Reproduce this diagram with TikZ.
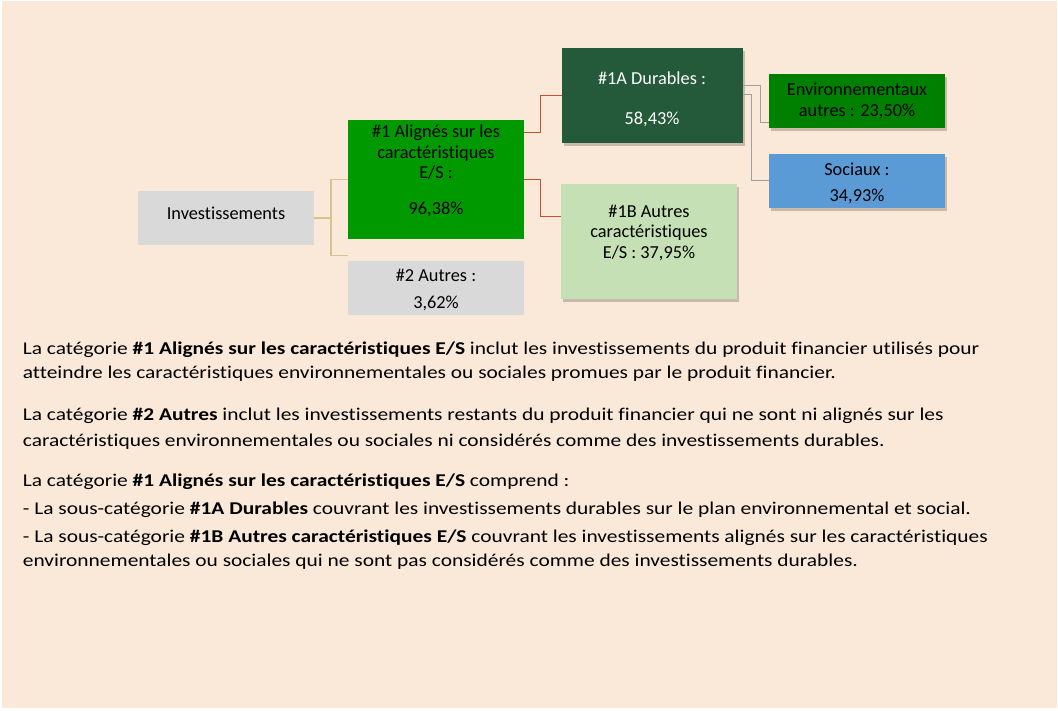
\documentclass[tikz,border=0pt]{standalone}
\usepackage{fontspec}
\setmainfont{Carlito}[Ligatures=NoCommon]
\newfontfamily\bodyfont{Carlito}[Ligatures=NoCommon,FakeStretch=1.19]
\usetikzlibrary{shadows,calc}
\definecolor{bgpeach}{HTML}{FAE8D8}
\definecolor{boxgray}{HTML}{D9D9D9}
\definecolor{greenA}{HTML}{009900}
\definecolor{darkgreen}{HTML}{245A3A}
\definecolor{envgreen}{HTML}{008000}
\definecolor{socblue}{HTML}{5B9BD5}
\definecolor{lightgreen}{HTML}{C5E0B4}
\definecolor{tanline}{HTML}{D6C48C}
\definecolor{redline}{HTML}{C8502D}
\definecolor{grayline}{HTML}{A0A0A0}
\tikzset{
  box/.style={draw=none, inner sep=0pt, outer sep=0pt, anchor=north west},
  shadowed/.style={drop shadow={shadow xshift=2pt, shadow yshift=-3pt, opacity=0.2, fill=black}},
  boxtext/.style={anchor=base, inner sep=0pt, font=\fontsize{18.3}{21}\selectfont},
  bodytext/.style={anchor=base west, inner sep=0pt, font=\bodyfont\fontsize{18}{22}\selectfont},
  tanconn/.style={draw=tanline, line width=1.6pt},
  redconn/.style={draw=redline, line width=1.6pt},
  grayconn/.style={draw=grayline, line width=1.1pt},
}
\begin{document}
\begin{tikzpicture}[x=1pt,y=-1pt]
\useasboundingbox (0,0) rectangle (1058,711);
\fill[white] (0,0) rectangle (1058,711);
\fill[bgpeach] (2,1) rectangle (1057,708);

% boxes
\node[box, fill=boxgray, minimum width=176pt, minimum height=53.7pt] (inv) at (138,191) {};
\node[box, fill=greenA, minimum width=176pt, minimum height=118.7pt] (n1) at (348,120) {};
\node[box, fill=boxgray, minimum width=176pt, minimum height=54.3pt] (n2) at (348,260.7) {};
\node[box, fill=darkgreen, shadowed, minimum width=180.7pt, minimum height=94.7pt] (n1a) at (562,48) {};
\node[box, fill=lightgreen, shadowed, minimum width=176pt, minimum height=115pt] (n1b) at (561,184) {};
\node[box, fill=envgreen, shadowed, minimum width=176pt, minimum height=53.7pt] (env) at (769,74) {};
\node[box, fill=socblue, shadowed, minimum width=176pt, minimum height=53.7pt] (soc) at (769,154) {};

% connectors
\coordinate (tanend) at (348,255.5);
\draw[tanconn] (inv.east) -- ++(16.7,0) coordinate (tanjoin);
\draw[tanconn] (n1.west) -| (tanjoin) |- (tanend);
\draw[redconn] ([yshift=46.7pt]n1.east) -- ++(16.5,0) |- (n1a.west);
\draw[redconn] (n1.east) -- ++(16.5,0) |- ([yshift=24.8pt]n1b.west);
\draw[grayconn] ([yshift=9.4pt]n1a.east) -- ++(17.5,0) |- ([yshift=-21.8pt]env.west);
\draw[grayconn] ([yshift=1pt]n1a.east) -- ++(8.5,0) |- (soc.west);

% box texts
\node[boxtext] (tinv) at (226,219.5) {Investissements};
\node[boxtext] (t1a) at (436,137.7) {\#1 Alignés sur les};
\node[boxtext] (t1b) at (436,158.3) {caractéristiques};
\node[boxtext] (t1c) at (436,179) {E/S :};
\node[boxtext] (t1d) at (436,215) {96,38\%};
\node[boxtext] (t2a) at (436,281.7) {\#2 Autres :};
\node[boxtext] (t2b) at (436,308.3) {3,62\%};
\node[boxtext, text=white] (tAa) at (652,84.3) {\#1A Durables :};
\node[boxtext, text=white] (tAb) at (652,125) {58,43\%};
\node[boxtext] (tEa) at (857,96) {Environnementaux};
\node[boxtext] (tEb) at (857,116.7) {autres : 23,50\%};
\node[boxtext] (tSa) at (857,176) {Sociaux :};
\node[boxtext] (tSb) at (857,201.7) {34,93\%};
\node[boxtext] (tBa) at (649,217.7) {\#1B Autres};
\node[boxtext] (tBb) at (649,237.7) {caractéristiques};
\node[boxtext] (tBc) at (649,258.3) {E/S : 37,95\%};

% body text
\node[bodytext] (l1) at (22.7,354.5) {La catégorie \textbf{\#1 Alignés sur les caractéristiques E/S} inclut les investissements du produit financier utilisés pour};
\node[bodytext] (l2) at (22.7,378.5) {atteindre les caractéristiques environnementales ou sociales promues par le produit financier.};
\node[bodytext] (l3) at (22.7,420) {La catégorie \textbf{\#2 Autres} inclut les investissements restants du produit financier qui ne sont ni alignés sur les};
\node[bodytext] (l4) at (22.7,446) {caractéristiques environnementales ou sociales ni considérés comme des investissements durables.};
\node[bodytext] (l5) at (22.7,486) {La catégorie \textbf{\#1 Alignés sur les caractéristiques E/S} comprend :};
\node[bodytext] (l6) at (22.7,514.3) {- La sous-catégorie \textbf{\#1A Durables} couvrant les investissements durables sur le plan environnemental et social.};
\node[bodytext] (l7) at (22.7,542.7) {- La sous-catégorie \textbf{\#1B Autres caractéristiques E/S} couvrant les investissements alignés sur les caractéristiques};
\node[bodytext] (l8) at (22.7,566) {environnementales ou sociales qui ne sont pas considérés comme des investissements durables.};
\end{tikzpicture}
\end{document}
